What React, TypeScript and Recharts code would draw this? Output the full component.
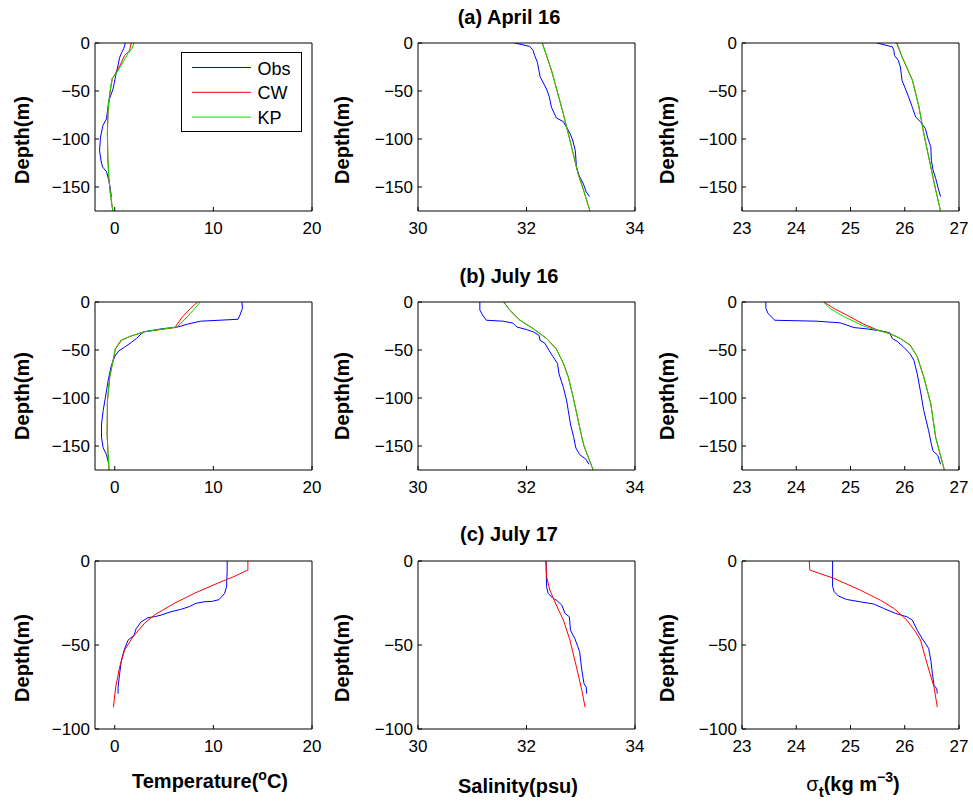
import React from 'react';
import { LineChart, Line, XAxis, YAxis, Legend } from 'recharts';

// each point is [value, depth(m)]
type Pt = [number, number];

// (a) April 16
const aprTempObs: Pt[] = [[1.07, 0], [1.0, -3], [0.9, -6], [0.7, -10], [0.5, -15], [0.3, -25], [0.1, -34], [-0.17, -48], [-0.6, -60], [-0.84, -79], [-1.2, -86], [-1.44, -98], [-1.54, -112], [-1.4, -122], [-1.24, -129], [-0.84, -134], [-0.6, -143], [-0.47, -150], [-0.34, -160]];
const aprTempCW: Pt[] = [[1.68, 0], [1.5, -8], [1.0, -13], [0.6, -22], [0.17, -30], [-0.24, -37], [-0.5, -53], [-0.67, -70], [-0.74, -94], [-0.7, -119], [-0.6, -140], [-0.44, -157], [-0.24, -172], [-0.2, -175]];
const aprTempKP: Pt[] = [[1.95, 0], [1.75, -6], [1.34, -11], [0.84, -20], [0.27, -30], [-0.27, -37], [-0.52, -53], [-0.68, -70], [-0.75, -94], [-0.7, -119], [-0.6, -140], [-0.44, -157], [-0.24, -172], [-0.2, -175]];
const aprSalObs: Pt[] = [[31.78, 0], [32.06, -3.5], [32.12, -7.6], [32.15, -13], [32.2, -20], [32.25, -35], [32.37, -48], [32.42, -56], [32.46, -67], [32.55, -78], [32.68, -82], [32.74, -88], [32.8, -94], [32.85, -101], [32.9, -112], [32.92, -129], [32.97, -138], [33.05, -147], [33.1, -155], [33.16, -160]];
const aprSalCW: Pt[] = [[32.29, 0], [32.46, -28.5], [32.68, -74], [32.83, -108], [32.95, -136], [33.05, -153], [33.17, -175]];
const aprSalKP: Pt[] = [[32.29, 0], [32.46, -28], [32.68, -74], [32.83, -108], [32.95, -136], [33.05, -153], [33.17, -175]];
const aprSigObs: Pt[] = [[25.49, 0], [25.77, -4], [25.8, -7.6], [25.81, -13], [25.88, -18], [25.92, -25], [25.95, -39], [26.0, -46], [26.07, -56], [26.14, -67], [26.2, -77], [26.29, -82], [26.38, -89], [26.43, -100], [26.48, -108], [26.49, -122], [26.52, -132], [26.57, -141], [26.61, -150], [26.66, -160]];
const aprSigCW: Pt[] = [[25.85, 0], [25.95, -14.6], [26.14, -38.5], [26.26, -66], [26.35, -94], [26.48, -129], [26.57, -153], [26.66, -175]];
const aprSigKP: Pt[] = [[25.86, 0], [25.95, -14], [26.14, -38.5], [26.26, -66], [26.35, -94], [26.48, -129], [26.57, -153], [26.66, -175]];

// (b) July 16
const jul16TempObs: Pt[] = [[12.9, 0], [12.95, -6.6], [12.7, -13.6], [12.5, -18], [8.7, -20], [7.4, -23], [6.4, -26], [4.7, -28], [3.0, -31], [2.7, -33], [2.2, -38], [1.7, -42], [1.0, -47], [0.4, -51], [0, -57], [-0.34, -66], [-0.67, -82], [-0.94, -99], [-1.17, -113], [-1.34, -127], [-1.34, -141], [-1.17, -152], [-0.84, -159], [-0.6, -169]];
const jul16TempCW: Pt[] = [[8.4, 0], [7.7, -6.6], [6.9, -15], [6.2, -25], [6.2, -26.5], [3.0, -31], [1.5, -36], [0.67, -40], [0.07, -49], [-0.17, -61], [-0.5, -78], [-0.74, -103], [-0.77, -138], [-0.67, -159], [-0.57, -175]];
const jul16TempKP: Pt[] = [[8.66, 0], [8.05, -7.7], [7.2, -17], [6.3, -26], [3.0, -31], [1.5, -36], [0.6, -40], [0.05, -49], [-0.17, -61], [-0.5, -78], [-0.74, -103], [-0.77, -138], [-0.67, -159], [-0.57, -175]];
const jul16SalObs: Pt[] = [[31.14, 0], [31.14, -8.4], [31.19, -13.6], [31.26, -19], [31.57, -20], [31.75, -22], [31.82, -26], [32.0, -28.7], [32.12, -31], [32.23, -34.6], [32.25, -40], [32.34, -43], [32.4, -49], [32.49, -57], [32.57, -64], [32.6, -75], [32.68, -89], [32.74, -103], [32.77, -113], [32.81, -127], [32.87, -141], [32.91, -152], [32.98, -159], [33.1, -164], [33.15, -169]];
const jul16SalCW: Pt[] = [[31.58, 0], [31.69, -8.4], [31.88, -19], [32.12, -27.6], [32.37, -38], [32.55, -49], [32.68, -64], [32.77, -78], [32.86, -99], [32.94, -120], [33.02, -141], [33.06, -150], [33.23, -175]];
const jul16SalKP: Pt[] = [[31.58, 0], [31.69, -8.4], [31.88, -19], [32.12, -27.6], [32.37, -38], [32.55, -49], [32.68, -64], [32.77, -78], [32.86, -99], [32.94, -120], [33.02, -141], [33.06, -150], [33.23, -175]];
const jul16SigObs: Pt[] = [[23.44, 0], [23.44, -6.6], [23.48, -12], [23.57, -17], [23.6, -19], [24.38, -20], [24.81, -21.7], [24.93, -24], [25.06, -26.6], [25.3, -28], [25.55, -30], [25.72, -32], [25.77, -38], [25.86, -41], [25.98, -47], [26.1, -54], [26.17, -61], [26.23, -75], [26.29, -93], [26.35, -113], [26.44, -134], [26.49, -148], [26.52, -155], [26.61, -160], [26.66, -169]];
const jul16SigCW: Pt[] = [[24.51, 0], [24.69, -6.6], [24.93, -13.6], [25.24, -23], [25.49, -29], [25.73, -33], [25.92, -38], [26.1, -45], [26.23, -57], [26.35, -78], [26.48, -106], [26.57, -141], [26.73, -175]];
const jul16SigKP: Pt[] = [[24.5, 0], [24.62, -6.6], [24.87, -15], [25.24, -25], [25.49, -29.4], [25.73, -33], [25.92, -38], [26.1, -45], [26.23, -57], [26.35, -78], [26.48, -106], [26.57, -141], [26.73, -175]];

// (c) July 17
const jul17TempObs: Pt[] = [[11.4, 0], [11.4, -5.4], [11.34, -15.3], [11.14, -19.3], [10.57, -23], [9.9, -24], [9.06, -24.3], [8.22, -25.2], [7.55, -27.2], [6.7, -28.8], [5.7, -30.2], [4.7, -32.2], [4.0, -33.2], [3.36, -33.8], [2.68, -36.2], [2.18, -40.2], [1.95, -44.2], [1.34, -47.2], [0.94, -53.3], [0.67, -59.4], [0.5, -67], [0.34, -75], [0.34, -79]];
const jul17TempCW: Pt[] = [[13.5, 0], [13.5, -5.4], [12.08, -9.3], [10.4, -13.3], [8.05, -19.3], [6.04, -25.2], [4.0, -32.2], [3.0, -37.2], [1.85, -45.1], [1.0, -53], [0.5, -63], [0.1, -75], [-0.13, -87]];
const jul17SalObs: Pt[] = [[32.36, 0], [32.37, -15.3], [32.4, -19.3], [32.49, -22.3], [32.55, -23.3], [32.65, -26.2], [32.71, -31.2], [32.79, -33.2], [32.81, -41.2], [32.89, -46.1], [32.98, -54], [33.02, -65], [33.06, -73], [33.1, -75], [33.11, -79]];
const jul17SalCW: Pt[] = [[32.36, 0], [32.37, -9.3], [32.43, -17.3], [32.55, -26.2], [32.68, -35.2], [32.8, -47], [32.92, -63], [33.02, -77], [33.08, -87]];
const jul17SigObs: Pt[] = [[24.67, 0], [24.67, -15.3], [24.7, -18.3], [24.78, -20.9], [24.93, -22.9], [25.18, -24.3], [25.43, -25.6], [25.61, -28.2], [25.83, -31.2], [26.04, -33.2], [26.14, -35.2], [26.23, -41.2], [26.32, -46.1], [26.44, -52], [26.48, -59], [26.51, -67], [26.54, -74], [26.59, -76], [26.6, -79]];
const jul17SigCW: Pt[] = [[24.24, 0], [24.25, -5.4], [24.69, -10.3], [25.18, -17.3], [25.55, -23.3], [25.8, -28.2], [26.04, -35.2], [26.2, -42.2], [26.29, -47], [26.41, -61], [26.54, -75], [26.6, -87]];

const tempTicks = [0, 10, 20];
const salTicks = [30, 32, 34];
const sigTicks = [23, 24, 25, 26, 27];
const deepTicks = [-150, -100, -50, 0];
const shallowTicks = [-100, -50, 0];
const titles = ['(a) April 16', '(b) July 16', '(c) July 17'];

const FONT = '"Liberation Sans", Arial, Helvetica, sans-serif';
const PLOT_W = 217;
const PLOT_H = 168;
const Y_AXIS_W = 60;
const PAD = 5;
const M_TOP = 12;
const M_RIGHT = 14;
const X_AXIS_H = 32;

const BLUE = '#0000ff';
const RED = '#ff0000';
const GREEN = '#00e000';

const COLS = [
  { left: 95, domain: [-2, 20], ticks: tempTicks },
  { left: 418, domain: [30, 34], ticks: salTicks },
  { left: 742, domain: [23, 27], ticks: sigTicks },
];
const ROWS = [
  { top: 43, domain: [-175, 0], ticks: deepTicks, title: 509, titleY: 24, labelY: 140 },
  { top: 302, domain: [-175, 0], ticks: deepTicks, title: 509, titleY: 282.5, labelY: 396 },
  { top: 561, domain: [-100, 0], ticks: shallowTicks, title: 509, titleY: 541, labelY: 658 },
];
const DEPTH_X = [29, 349, 674];

type Series = { name: string; color: string; pts: Pt[] };
const mk = (obs: Pt[], cw: Pt[], kp?: Pt[]): Series[] => {
  const s: Series[] = [
    { name: 'Obs', color: BLUE, pts: obs },
    { name: 'CW', color: RED, pts: cw },
  ];
  if (kp) s.push({ name: 'KP', color: GREEN, pts: kp });
  return s;
};

const PANELS: Series[][][] = [
  [mk(aprTempObs, aprTempCW, aprTempKP), mk(aprSalObs, aprSalCW, aprSalKP), mk(aprSigObs, aprSigCW, aprSigKP)],
  [mk(jul16TempObs, jul16TempCW, jul16TempKP), mk(jul16SalObs, jul16SalCW, jul16SalKP), mk(jul16SigObs, jul16SigCW, jul16SigKP)],
  [mk(jul17TempObs, jul17TempCW), mk(jul17SalObs, jul17SalCW), mk(jul17SigObs, jul17SigCW)],
];

const fmt = (v: number) => (v < 0 ? `\u2212${-v}` : `${v}`);
const tickStyle = { fill: '#000', fontSize: 17, fontFamily: FONT };

function LegendBox({ items }: { items: Series[] }) {
  return (
    <div style={{ width: 121, height: 80, border: '1px solid #000', background: '#fff', boxSizing: 'border-box' }}>
      <svg width={119} height={78} style={{ display: 'block' }}>
        {items.map((p, i) => (
          <g key={p.name}>
            <line x1={10} x2={69} y1={14.5 + i * 24.8} y2={14.5 + i * 24.8} stroke={p.color} strokeWidth={1} />
            <text x={75.5} y={21.5 + i * 24.8} fontSize={18} fontFamily={FONT} fill="#000">
              {p.name}
            </text>
          </g>
        ))}
      </svg>
    </div>
  );
}

function Panel({ ci, ri }: { ci: number; ri: number }) {
  const c = COLS[ci];
  const r = ROWS[ri];
  const series = PANELS[ri][ci];
  const left = c.left - Y_AXIS_W;
  const top = r.top - M_TOP - PAD;
  return (
    <div style={{ position: 'absolute', left, top }}>
      <LineChart
        width={Y_AXIS_W + PLOT_W + PAD + M_RIGHT}
        height={M_TOP + PAD + PLOT_H + X_AXIS_H}
        margin={{ top: M_TOP, right: M_RIGHT, bottom: 0, left: 0 }}
      >
        <XAxis
          xAxisId="b"
          type="number"
          dataKey="v"
          orientation="bottom"
          domain={c.domain}
          ticks={c.ticks}
          interval={0}
          allowDataOverflow
          height={X_AXIS_H}
          stroke="#000"
          tickSize={-4}
          tickMargin={15}
          tick={tickStyle}
        />
        <XAxis
          xAxisId="t"
          type="number"
          dataKey="v"
          orientation="top"
          domain={c.domain}
          ticks={c.ticks}
          interval={0}
          allowDataOverflow
          height={PAD}
          stroke="#000"
          tickSize={-4}
          tick={false}
        />
        <YAxis
          yAxisId="l"
          type="number"
          orientation="left"
          domain={r.domain}
          ticks={r.ticks}
          interval={0}
          allowDataOverflow
          width={Y_AXIS_W}
          stroke="#000"
          tickSize={-4}
          tickMargin={9}
          tick={tickStyle}
          tickFormatter={fmt}
        />
        <YAxis
          yAxisId="r"
          type="number"
          orientation="right"
          domain={r.domain}
          ticks={r.ticks}
          interval={0}
          allowDataOverflow
          width={PAD}
          stroke="#000"
          tickSize={-4}
          tick={false}
        />
        {series.map((s) => (
          <Line
            key={s.name}
            xAxisId="b"
            yAxisId="l"
            data={s.pts.map(([v, d]) => ({ v, d }))}
            dataKey="d"
            name={s.name}
            stroke={s.color}
            strokeWidth={1}
            dot={false}
            activeDot={false}
            isAnimationActive={false}
          />
        ))}
        {ci === 0 && ri === 0 && (
          <Legend
            layout="vertical"
            align="center"
            verticalAlign="middle"
            wrapperStyle={{ position: 'absolute', left: 180.7 - left, top: 52.3 - top, width: 121 }}
            content={() => <LegendBox items={series} />}
          />
        )}
      </LineChart>
    </div>
  );
}

export default function App() {
  return (
    <div style={{ position: 'absolute', left: 0, top: 0, width: 973, height: 805, background: '#fff', fontFamily: FONT }}>
      <svg width={973} height={805} style={{ position: 'absolute', left: 0, top: 0 }}>
        {ROWS.map((r, i) => (
          <text key={`t${i}`} x={r.title} y={r.titleY} textAnchor="middle" fontSize={20} fontWeight="bold" fontFamily={FONT}>
            {titles[i]}
          </text>
        ))}
        {ROWS.map((r, i) =>
          DEPTH_X.map((bx, j) => (
            <text
              key={`d${i}${j}`}
              transform={`translate(${bx},${r.labelY}) rotate(-90)`}
              textAnchor="middle"
              fontSize={20}
              fontWeight="bold"
              fontFamily={FONT}
            >
              Depth(m)
            </text>
          ))
        )}
        <text x={210} y={788} textAnchor="middle" fontSize={20} fontWeight="bold" fontFamily={FONT}>
          Temperature(<tspan dy={-8} fontSize={14}>o</tspan>
          <tspan dy={8}>C)</tspan>
        </text>
        <text x={518} y={793} textAnchor="middle" fontSize={20} fontWeight="bold" fontFamily={FONT}>
          Salinity(psu)
        </text>
        <text x={853} y={791} textAnchor="middle" fontSize={20} fontWeight="bold" fontFamily={FONT}>
          <tspan fontWeight="normal">σ</tspan>
          <tspan dy={6} fontSize={15}>t</tspan>
          <tspan dy={-6}>(kg m</tspan>
          <tspan dy={-9} fontSize={14}>−3</tspan>
          <tspan dy={9}>)</tspan>
        </text>
      </svg>
      {ROWS.map((_, ri) => COLS.map((__, ci) => <Panel key={`${ri}-${ci}`} ci={ci} ri={ri} />))}
    </div>
  );
}
